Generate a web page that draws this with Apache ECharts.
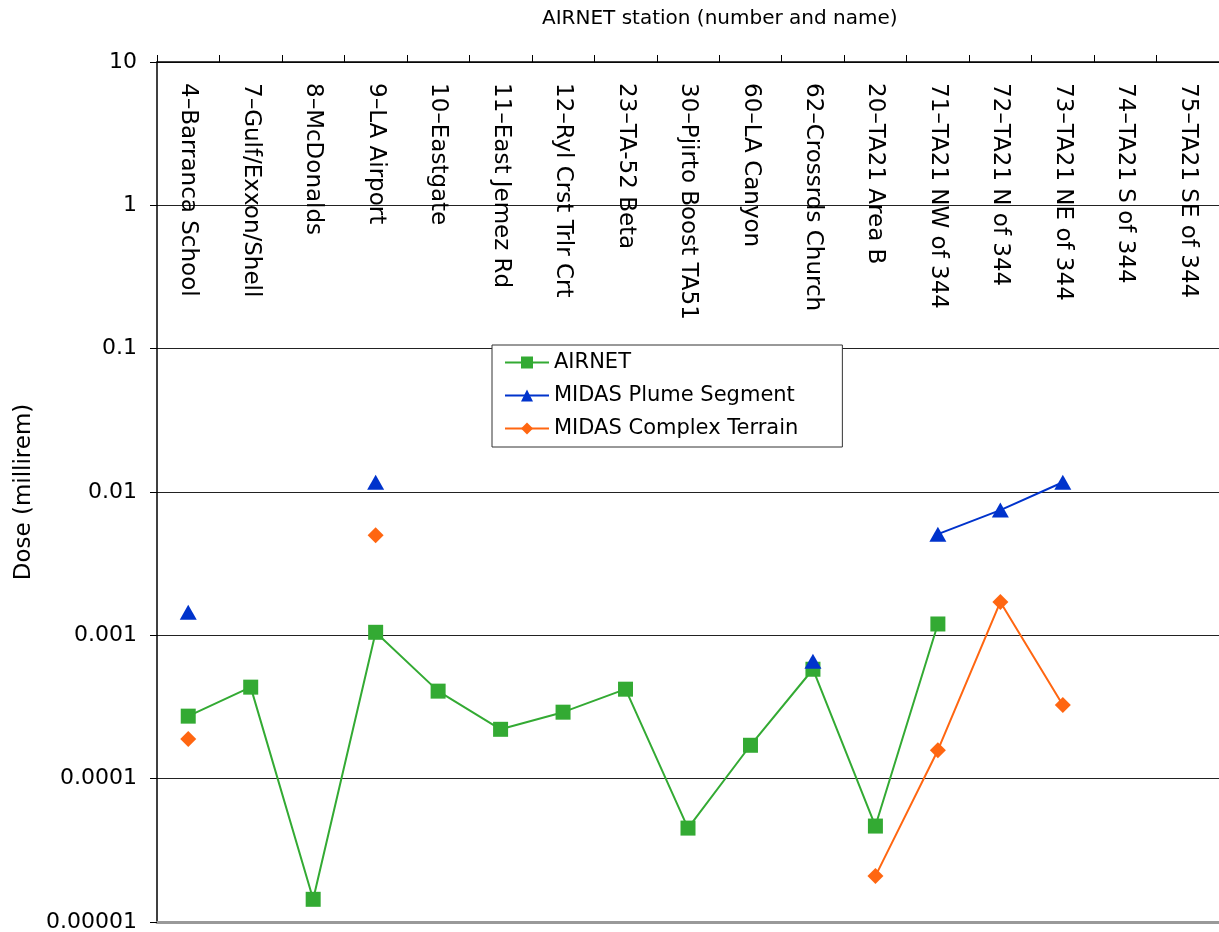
<!DOCTYPE html>
<html>
<head>
<meta charset="utf-8">
<script src="https://cdn.jsdelivr.net/npm/echarts@6/dist/echarts.min.js"></script>
<style>
  html, body { margin: 0; padding: 0; background: #fff; }
  #main { width: 1219px; height: 932px; }
</style>
</head>
<body>
<div id="main"></div>
<script>
// stations along the top axis
var stations = [
  '4–Barranca School', '7–Gulf/Exxon/Shell', '8–McDonalds', '9–LA Airport',
  '10–Eastgate', '11–East Jemez Rd', '12–Ryl Crst Trlr Crt', '23–TA-52 Beta',
  '30–Pjirto Boost TA51', '60–LA Canyon', '62–Crossrds Church', '20–TA21 Area B',
  '71–TA21 NW of 344', '72–TA21 N of 344', '73–TA21 NE of 344', '74–TA21 S of 344',
  '75–TA21 SE of 344'
];

// dose values (millirem), null = no value
var airnet = [0.000273, 0.000435, 0.0000144, 0.00105, 0.000408, 0.000221, 0.000291, 0.000421,
  0.0000452, 0.000171, 0.00058, 0.0000467, 0.0012, null, null, null, null];
var plumeSegment = [0.00145, null, null, 0.0117, null, null, null, null,
  null, null, 0.00066, null, 0.00508, 0.00748, 0.0117, null, null];
var complexTerrain = [0.000189, null, null, 0.005, null, null, null, null,
  null, null, null, 0.0000209, 0.000158, 0.00171, 0.000326, null, null];

// y tick labels, one per decade from 1e-5 to 10
var yTickLabels = ['0.00001', '0.0001', '0.001', '0.01', '0.1', '1', '10'];

var font = 'DejaVu Sans';
var chart = echarts.init(document.getElementById('main'));

var option = {
  animation: false,
  textStyle: { fontFamily: font, color: '#000' },
  title: {
    text: 'AIRNET station (number and name)',
    left: 542,
    top: 9,
    padding: 0,
    textStyle: { fontFamily: font, fontSize: 20, fontWeight: 'normal', color: '#000' }
  },
  grid: { left: 157, right: 0, top: 62, bottom: 10, outerBoundsMode: 'none' },
  legend: {
    orient: 'vertical',
    left: 492,
    top: 345,
    padding: [7, 44, 8, 12],
    itemGap: 12,
    itemWidth: 44,
    itemHeight: 15,
    borderColor: '#333',
    borderWidth: 1,
    backgroundColor: '#fff',
    textStyle: { fontFamily: font, fontSize: 21, color: '#000' },
    data: ['AIRNET', 'MIDAS Plume Segment', 'MIDAS Complex Terrain']
  },
  xAxis: [
    {
      type: 'category',
      position: 'top',
      data: stations,
      axisLine: { lineStyle: { color: '#000', width: 1.5 } },
      axisTick: { show: true, inside: false, length: 7, lineStyle: { color: '#000' } },
      axisLabel: {
        inside: true,
        rotate: 90,
        margin: 21,
        fontSize: 23,
        color: '#000',
        fontFamily: font,
        interval: 0
      },
      splitLine: { show: false }
    },
    {
      type: 'category',
      position: 'bottom',
      data: stations,
      axisLine: { lineStyle: { color: '#999', width: 3 } },
      axisTick: { show: false },
      axisLabel: { show: false }
    }
  ],
  yAxis: {
    type: 'log',
    logBase: 10,
    min: 0.00001,
    max: 10,
    name: 'Dose (millirem)',
    nameLocation: 'middle',
    nameGap: 116,
    nameTextStyle: { fontFamily: font, fontSize: 23, color: '#000' },
    axisLine: { show: true, lineStyle: { color: '#000', width: 1.5 } },
    axisTick: { show: true, length: 7, lineStyle: { color: '#000' } },
    axisLabel: {
      fontSize: 22,
      color: '#000',
      fontFamily: font,
      margin: 20,
      formatter: function (v) {
        var i = Math.round(Math.log10(v)) + 5;
        return yTickLabels[i] !== undefined ? yTickLabels[i] : '';
      }
    },
    splitLine: { show: true, lineStyle: { color: '#222', width: 1.2 } }
  },
  series: [
    {
      name: 'AIRNET',
      type: 'line',
      data: airnet,
      symbol: 'rect',
      symbolSize: 15,
      itemStyle: { color: '#33aa33' },
      lineStyle: { color: '#33aa33', width: 2 },
      z: 3
    },
    {
      name: 'MIDAS Plume Segment',
      type: 'line',
      data: plumeSegment,
      symbol: 'triangle',
      symbolSize: [17, 15],
      itemStyle: { color: '#0033cc' },
      lineStyle: { color: '#0033cc', width: 2 },
      z: 4
    },
    {
      name: 'MIDAS Complex Terrain',
      type: 'line',
      data: complexTerrain,
      symbol: 'diamond',
      symbolSize: 16,
      itemStyle: { color: '#ff6611' },
      lineStyle: { color: '#ff6611', width: 2 },
      z: 4
    }
  ]
};

chart.setOption(option);
</script>
</body>
</html>
